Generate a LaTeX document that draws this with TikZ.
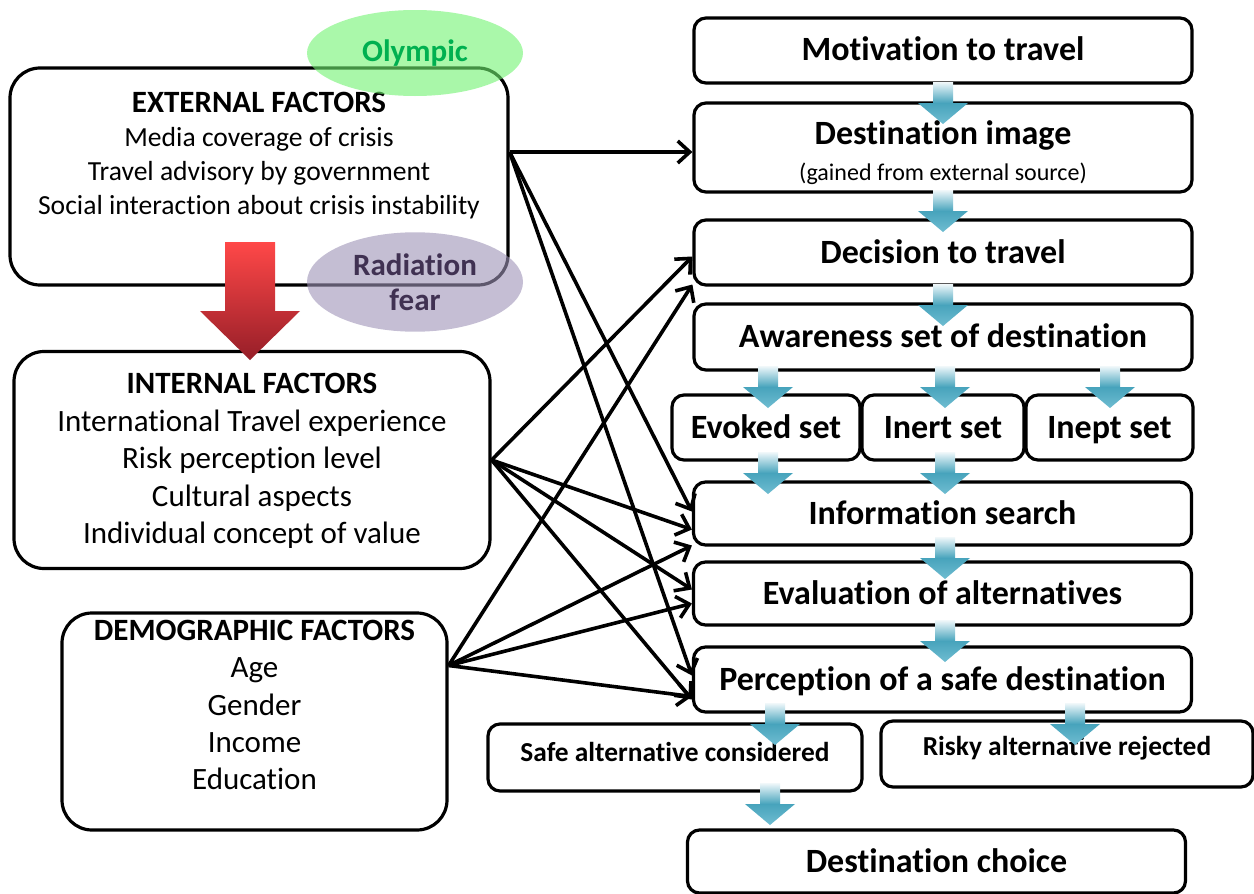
\documentclass[tikz,border=0pt]{standalone}
\usepackage{fontspec}
\setmainfont[Ligatures=NoCommon]{Carlito}
\usepackage{xcolor}
\usepackage{tikz}
\usetikzlibrary{arrows.meta}
\usetikzlibrary{shapes.geometric}

\definecolor{accentblue}{RGB}{75,172,198}
\definecolor{redtop}{RGB}{255,72,72}
\definecolor{redbot}{RGB}{150,30,40}
\definecolor{olyfill}{RGB}{113,243,113}
\definecolor{olytext}{RGB}{0,176,80}
\definecolor{radfill}{RGB}{158,147,183}
\definecolor{radtext}{RGB}{64,49,82}

\newcommand{\stepfont}{\fontsize{17}{20}\selectfont\bfseries}
\newcommand{\altfont}{\fontsize{13.7}{16}\selectfont\bfseries}
\newcommand{\blkarr}[2]{\shade[blkarrow] (#1-10,#2) -- (#1+10,#2) -- (#1+10,#2+21)
  -- (#1+25,#2+21) -- (#1,#2+42) -- (#1-25,#2+21) -- (#1-10,#2+21) -- cycle;}

\tikzset{
  stepbox/.style={draw, line width=1.6pt, rounded corners=6pt, fill=white,
    minimum width=249pt, minimum height=32.5pt, inner sep=0pt, font=\stepfont},
  onebox/.style={stepbox, text height=12pt, text depth=1.5pt},
  altbox/.style={draw, line width=1.6pt, rounded corners=6pt, fill=white,
    minimum width=187pt, minimum height=33.5pt},
  factbox/.style={draw, line width=1.6pt, rounded corners=15pt, fill=white,
    minimum height=108.5pt},
  facttext/.style={align=center, font=\fontsize{15.5}{18.7}\selectfont},
  conn/.style={line width=1.8pt, -{Straight Barb[length=6pt,width=11pt]}},
  blkarrow/.style={top color=accentblue!8, bottom color=accentblue!80!white,
    middle color=accentblue!95!black},
  redarrow/.style={top color=redtop, bottom color=redbot},
  bubble/.style={ellipse, fill opacity=0.6, text opacity=1, minimum width=108pt,
    align=center, font=\fontsize{15.5}{17.5}\selectfont\bfseries}
}

\begin{document}
\begin{tikzpicture}[x=0.5pt, y=-0.5pt]
    \useasboundingbox (0,0) rectangle (1254,894);
    \node[factbox, minimum width=249pt] (ext) at (259,176.5) {};
    \node[facttext, font=\fontsize{13.8}{17}\selectfont] (exttxt) at (259,156)
      {\textbf{\fontsize{15.5}{17}\selectfont EXTERNAL FACTORS}\\Media coverage of crisis\\
       Travel advisory by government\\Social interaction about crisis instability};
    \node[factbox, minimum width=238pt] (int) at (252,460) {};
    \node[facttext] (inttxt) at (252,461)
      {\textbf{INTERNAL FACTORS}\\International Travel experience\\Risk perception level\\
       Cultural aspects\\Individual concept of value};
    \node[factbox, minimum width=192.5pt] (demo) at (254.5,721.5) {};
    \node[facttext] (demotxt) at (254.5,705)
      {\textbf{DEMOGRAPHIC FACTORS}\\Age\\Gender\\Income\\Education};
    \node[bubble, fill=olyfill, text=olytext, minimum height=43pt] (oly) at (415,53) {Olympic};
    \node[bubble, fill=radfill, text=radtext, minimum height=45pt] (rad) at (415,282) {Radiation\\fear};
    \shade[redarrow] (225,242) -- (275,242) -- (275,311) -- (300,311)
      -- (250,360) -- (200,311) -- (225,311) -- cycle;

    \node[onebox] (mot) at (943,50.5) {Motivation to travel};
    \node[stepbox, minimum height=44.5pt] (img) at (943,147.5) {};
    \node[align=center, font=\stepfont] (imgtxt) at (943,153)
      {Destination image\\[-2pt]{\fontsize{12}{14}\selectfont\mdseries (gained from external source)}};
    \node[onebox] (dec) at (943,252.5) {Decision to travel};
    \node[onebox, minimum height=33pt] (aware) at (943,337) {Awareness set of destination};
    \node[onebox, minimum width=94pt] (evoked) at (766,427.5) {Evoked set};
    \node[onebox, minimum width=81pt] (inert) at (943,427.5) {Inert set};
    \node[onebox, minimum width=83.5pt] (inept) at (1109.5,427.5) {Inept set};
    \node[onebox, minimum height=31.5pt] (info) at (942.5,513.5) {Information search};
    \node[onebox, minimum height=31.5pt] (eval) at (942.5,593.5) {Evaluation of alternatives};
    \node[onebox] (perc) at (942.5,679.5) {Perception of a safe destination};
    \node[altbox] (safe) at (675,757.5) {};
    \node[font=\altfont] (safetxt) at (675,752) {Safe alternative considered};
    \node[altbox, minimum width=186pt, minimum height=33pt] (risky) at (1067,754) {};
    \node[font=\altfont] (riskytxt) at (1067,748) {Risky alternative rejected};
    \node[onebox, minimum height=31.5pt] (choice) at (936.5,861.5) {Destination choice};

    \draw[conn] ([yshift=12.25pt]ext.east) -- ([yshift=12.25pt]ext.east -| img.west);
    \draw[conn] ([yshift=12.25pt]ext.east) -- ([yshift=1pt]info.west);
    \draw[conn] ([yshift=12.25pt]ext.east) -- ([yshift=2pt]perc.west);
    \draw[conn] (int.east) -- ([yshift=-2pt]dec.west);
    \draw[conn] (int.east) -- ([yshift=-8pt]info.west);
    \draw[conn] (int.east) -- ([yshift=2pt]eval.west);
    \draw[conn] (int.east) -- ([yshift=-10pt]perc.west);
    \draw[conn] ([yshift=28pt]demo.east) -- ([yshift=-16pt]dec.west);
    \draw[conn] ([yshift=28pt]demo.east) -- ([yshift=-16pt]info.west);
    \draw[conn] ([yshift=28pt]demo.east) -- ([yshift=-5pt]eval.west);
    \draw[conn] ([yshift=28pt]demo.east) -- ([yshift=-8.5pt]perc.west);

    \blkarr{943}{82}
    \blkarr{943}{190}
    \blkarr{943}{284}
    \blkarr{768}{366}
    \blkarr{945}{366}
    \blkarr{1110}{366}
    \blkarr{768}{452}
    \blkarr{945}{452}
    \blkarr{945}{537}
    \blkarr{945}{620}
    \blkarr{775}{703}
    \blkarr{1075}{703}
    \blkarr{770}{783}
  \end{tikzpicture}
\end{document}
